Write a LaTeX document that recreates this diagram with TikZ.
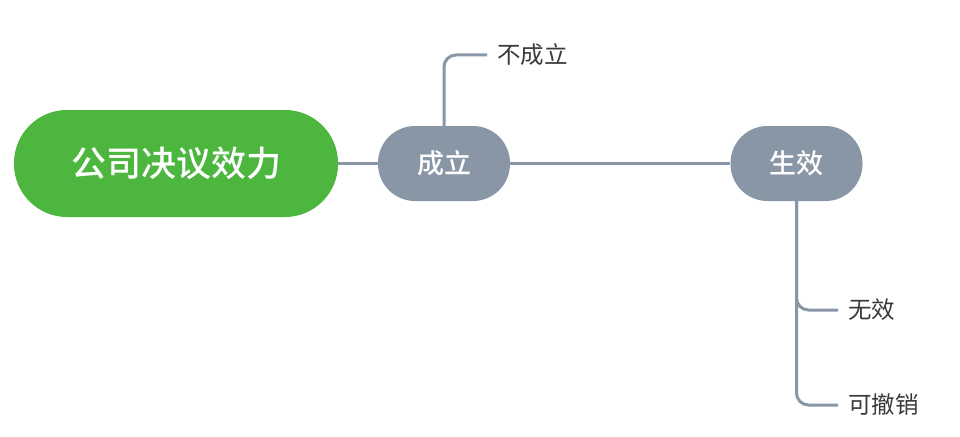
\documentclass[tikz,border=0pt]{standalone}
\usepackage{fontspec}
\newfontfamily\cjk{Noto Sans CJK SC}
\newfontfamily\cjkmed{Noto Sans CJK SC Medium}
\definecolor{rootgreen}{HTML}{4DB63E}
\definecolor{topicgray}{HTML}{8896A6}
\definecolor{labelgray}{HTML}{3A3A3A}
\tikzset{
	rootbox/.style={fill=rootgreen,text=white,rounded corners=53pt,minimum width=324pt,minimum height=107pt,inner sep=0pt,font=\cjkmed\fontsize{35}{35}\selectfont},
	topicbox/.style={fill=topicgray,text=white,rounded corners=37pt,minimum width=132pt,minimum height=75pt,inner sep=0pt,font=\cjkmed\fontsize{27}{27}\selectfont},
	leaf/.style={text=labelgray,anchor=west,inner sep=0pt,font=\cjk\fontsize{23.5}{23.5}\selectfont},
	link/.style={draw=topicgray,line width=3pt,rounded corners=12pt}
}
\begin{document}
\begin{tikzpicture}[x=1pt,y=-1pt]
	\useasboundingbox (0,0) rectangle (960,436);

	\node [rootbox] (root) at (176,163.5) {公司决议效力};
	\node [topicbox] (cl) at (444,163.5) {成立};
	\node [topicbox] (sx) at (796.5,163.5) {生效};

	\node [leaf] (bcl) at (497,55) {不成立};
	\node [leaf] (wx) at (848,310) {无效};
	\node [leaf] (kcx) at (848,405) {可撤销};

	\draw [link] (root.east) -- (cl.west);
	\draw [link] (cl.east) -- (sx.west);
	\draw [link] (cl.north) |- ([xshift=-10pt]bcl.west);
	\foreach \z in {wx,kcx}
	{
		\draw [link] (sx.south) |- ([xshift=-10pt]\z.west);
	}
\end{tikzpicture}
\end{document}
